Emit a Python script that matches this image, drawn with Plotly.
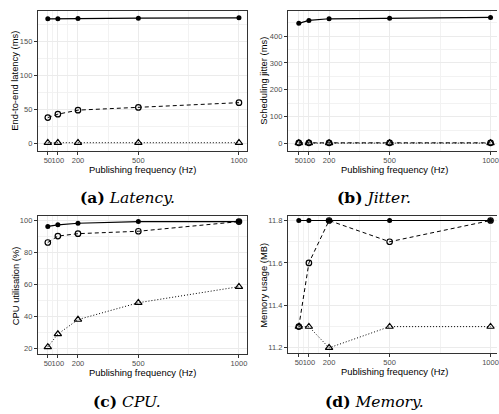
import plotly.graph_objects as go

# ---------------- data ----------------
freq = [50, 100, 200, 500, 1000]
freq_ticks = [50, 100, 200, 500, 1000]
freq_minor = [75, 150, 350, 750]

latency_solid = [183.5, 183.5, 184, 184.5, 185]
latency_dashed = [38, 43, 49, 53, 60]
latency_dotted = [1, 1, 1, 1, 1]

jitter_solid = [447, 458, 464, 466, 469]
jitter_dashed = [3, 3, 3, 3, 3]
jitter_dotted = [2, 2, 2, 2, 2]

cpu_solid = [96, 97, 98, 99, 99]
cpu_dashed = [86, 90, 91.5, 93, 99]
cpu_dotted = [21, 29, 38, 48.5, 58.5]

mem_solid = [11.8, 11.8, 11.8, 11.8, 11.8]
mem_dashed = [11.3, 11.6, 11.8, 11.7, 11.8]
mem_dotted = [11.3, 11.3, 11.2, 11.3, 11.3]

x_title = "Publishing frequency (Hz)"

panels = [
    dict(solid=latency_solid, dashed=latency_dashed, dotted=latency_dotted,
         ytitle="End-to-end latency (ms)", yticks=[0, 50, 100, 150],
         yminor=[25, 75, 125, 175], yrange=[-10.7, 195.1],
         caption="<b>(a)</b> <i>Latency.</i>"),
    dict(solid=jitter_solid, dashed=jitter_dashed, dotted=jitter_dotted,
         ytitle="Scheduling jitter (ms)", yticks=[0, 100, 200, 300, 400],
         yminor=[50, 150, 250, 350, 450], yrange=[-26, 493],
         caption="<b>(b)</b> <i>Jitter.</i>"),
    dict(solid=cpu_solid, dashed=cpu_dashed, dotted=cpu_dotted,
         ytitle="CPU utilisation (%)", yticks=[20, 40, 60, 80, 100],
         yminor=[30, 50, 70, 90], yrange=[16.5, 102.2],
         caption="<b>(c)</b> <i>CPU.</i>"),
    dict(solid=mem_solid, dashed=mem_dashed, dotted=mem_dotted,
         ytitle="Memory usage (MB)", yticks=[11.2, 11.4, 11.6, 11.8],
         yminor=[11.3, 11.5, 11.7], yrange=[11.175, 11.819],
         caption="<b>(d)</b> <i>Memory.</i>"),
]

W, H = 499, 414
# plot-area pixel boxes (left, top, right, bottom)
boxes = [(38, 10, 248, 150), (289, 10, 499, 150),
         (38, 216, 248, 354), (289, 216, 499, 353)]
xranges = [[0.5, 1040], [-4.3, 1032], [0.5, 1040], [-4.3, 1032]]
caption_x = [128, 376, 128, 376]
caption_y = [197, 197, 401, 401]
xtitle_x = [143, 396, 143, 396]
ytitle_x = [15, 265, 15, 265]

fig = go.Figure()
for i, p in enumerate(panels):
    n = "" if i == 0 else str(i + 1)
    xa, ya = "x" + n, "y" + n
    common = dict(xaxis=xa, yaxis=ya, showlegend=False, cliponaxis=False,
                  hoverinfo="skip")
    fig.add_trace(go.Scatter(x=freq, y=p["dotted"], mode="lines+markers",
                             line=dict(color="black", width=1, dash="1px,2px"),
                             marker=dict(symbol="triangle-up-open", size=6.5, color="black",
                                         line=dict(width=1.2)), **common))
    fig.add_trace(go.Scatter(x=freq, y=p["dashed"], mode="lines+markers",
                             line=dict(color="black", width=1, dash="4px,3px"),
                             marker=dict(symbol="circle-open", size=5.5, color="black",
                                         line=dict(width=1.2)), **common))
    fig.add_trace(go.Scatter(x=freq, y=p["solid"], mode="lines+markers",
                             line=dict(color="black", width=1.2),
                             marker=dict(symbol="circle", size=5, color="black"), **common))

    l, t, r, b = boxes[i]
    right_panel = (i % 2 == 1)
    axis_common = dict(showline=True, linecolor="#333333", linewidth=1,
                       ticks="outside", ticklen=3, tickcolor="#333333", tickwidth=1,
                       showgrid=True, gridcolor="#EBEBEB", gridwidth=1, zeroline=False,
                       tickangle=0, ticklabeloverflow="allow",
                       tickfont=dict(family="Liberation Sans", size=7.5, color="#4D4D4D"))
    fig.layout["xaxis" + n] = dict(
        domain=[l / W, r / W], mirror=True,
        anchor=ya, range=xranges[i], tickvals=freq_ticks,
        ticktext=[str(v) for v in freq_ticks], ticklabelstandoff=-1,
        minor=dict(tickvals=freq_minor, showgrid=True, gridcolor="#F2F2F2",
                   gridwidth=0.6, ticks=""),
        **axis_common)
    fig.layout["yaxis" + n] = dict(
        domain=[1 - b / H, 1 - t / H], anchor=xa, range=p["yrange"],
        mirror=(not right_panel),
        tickvals=p["yticks"], ticktext=[f"{v:g}" for v in p["yticks"]],
        minor=dict(tickvals=p["yminor"], showgrid=True, gridcolor="#F2F2F2",
                   gridwidth=0.6, ticks=""),
        **axis_common)
    # axis titles
    fig.add_annotation(text=x_title, x=xtitle_x[i] / W, y=1 - (b + 18.5) / H,
                       xref="paper", yref="paper", showarrow=False,
                       xanchor="center", yanchor="middle",
                       font=dict(family="Liberation Sans", size=9.4, color="black"))
    fig.add_annotation(text=p["ytitle"], x=ytitle_x[i] / W, y=1 - ((t + b) / 2) / H,
                       xref="paper", yref="paper", showarrow=False, textangle=-90,
                       xanchor="center", yanchor="middle",
                       font=dict(family="Liberation Sans", size=9.4, color="black"))
    # sub-figure caption
    fig.add_annotation(text=p["caption"], x=caption_x[i] / W, y=1 - caption_y[i] / H,
                       xref="paper", yref="paper",
                       showarrow=False, xanchor="center", yanchor="middle",
                       font=dict(family="DejaVu Serif", size=15.5, color="black"))

fig.update_layout(width=W, height=H, margin=dict(l=0, r=0, t=0, b=0),
                  paper_bgcolor="white", plot_bgcolor="white", hovermode=False)
fig.write_html("out.html", config={"displayModeBar": False},
               post_script="document.body.style.margin='0';document.body.style.overflow='hidden';")
